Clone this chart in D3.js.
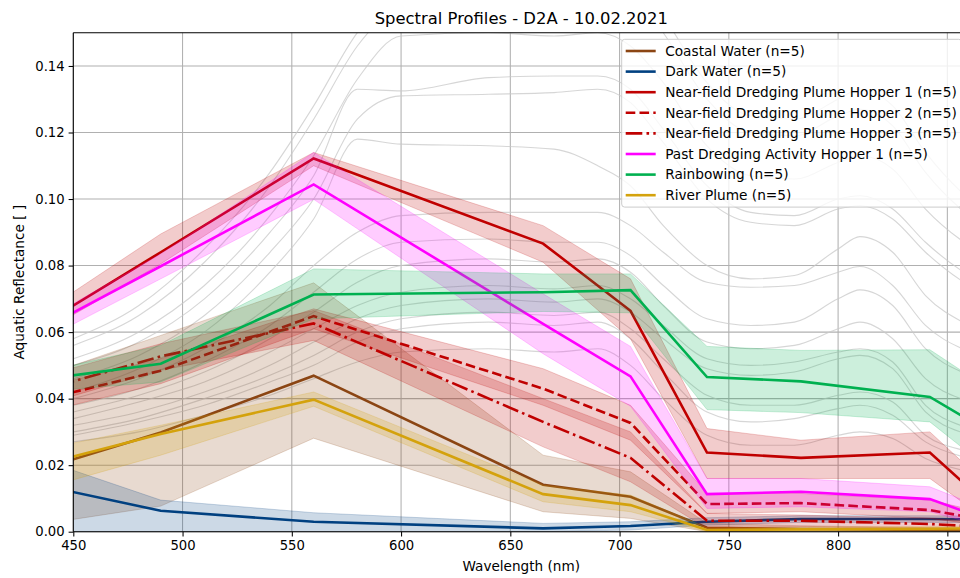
<!DOCTYPE html>
<html>
<head>
<meta charset="utf-8">
<script src="https://cdn.jsdelivr.net/npm/d3@7"></script>
<style>
  body { margin: 0; background: #fff; }
  svg { display: block; }
  text { font-family: "DejaVu Sans", sans-serif; fill: #000; }
</style>
</head>
<body>
<svg id="chart" width="960" height="578"></svg>
<script>
// Sentinel-2 band centres (nm)
const bands = [443, 490, 560, 665, 705, 740, 783, 842, 865];

// Class means and shaded envelopes (aquatic reflectance)
const coastalMean = [0.0204, 0.0298, 0.0469, 0.0141, 0.0105, 0.0012, 0.0008, 0.0005, 0.0003];
const coastalLo   = [0.0030, 0.0077, 0.0281, 0.0060, 0.0040, 0.0000, 0.0000, 0.0000, 0.0000];
const coastalHi   = [0.0484, 0.0590, 0.0748, 0.0230, 0.0180, 0.0025, 0.0018, 0.0012, 0.0010];

const darkMean = [0.0129, 0.0063, 0.0030, 0.0010, 0.0017, 0.0030, 0.0038, 0.0038, 0.0037];
const darkLo   = [0.0000, 0.0000, 0.0000, 0.0000, 0.0005, 0.0020, 0.0028, 0.0028, 0.0027];
const darkHi   = [0.0200, 0.0095, 0.0057, 0.0025, 0.0030, 0.0042, 0.0048, 0.0048, 0.0047];

const hopper1Mean = [0.0652, 0.0840, 0.1122, 0.0866, 0.0664, 0.0238, 0.0222, 0.0238, 0.0101];
const hopper1Lo   = [0.0625, 0.0805, 0.1100, 0.0810, 0.0580, 0.0160, 0.0160, 0.0160, 0.0050];
const hopper1Hi   = [0.0690, 0.0895, 0.1140, 0.0920, 0.0760, 0.0310, 0.0275, 0.0300, 0.0160];

const hopper2Mean = [0.0408, 0.0484, 0.0648, 0.0430, 0.0327, 0.0083, 0.0086, 0.0065, 0.0038];
const hopper2Lo   = [0.0370, 0.0445, 0.0610, 0.0380, 0.0275, 0.0055, 0.0060, 0.0040, 0.0020];
const hopper2Hi   = [0.0445, 0.0520, 0.0670, 0.0490, 0.0380, 0.0115, 0.0115, 0.0095, 0.0060];

const hopper3Mean = [0.0439, 0.0527, 0.0626, 0.0330, 0.0222, 0.0033, 0.0033, 0.0023, 0.0015];
const hopper3Lo   = [0.0395, 0.0485, 0.0575, 0.0255, 0.0150, 0.0010, 0.0015, 0.0008, 0.0005];
const hopper3Hi   = [0.0480, 0.0565, 0.0665, 0.0400, 0.0300, 0.0055, 0.0050, 0.0040, 0.0030];

const pastMean = [0.0634, 0.0798, 0.1044, 0.0625, 0.0467, 0.0113, 0.0120, 0.0098, 0.0044];
const pastLo   = [0.0600, 0.0760, 0.0999, 0.0535, 0.0377, 0.0070, 0.0075, 0.0060, 0.0020];
const pastHi   = [0.0660, 0.0835, 0.1140, 0.0715, 0.0557, 0.0160, 0.0160, 0.0135, 0.0075];

const rainbowMean = [0.0464, 0.0505, 0.0713, 0.0720, 0.0726, 0.0465, 0.0452, 0.0405, 0.0316];
const rainbowLo   = [0.0425, 0.0450, 0.0640, 0.0662, 0.0658, 0.0367, 0.0358, 0.0330, 0.0210];
const rainbowHi   = [0.0490, 0.0560, 0.0790, 0.0775, 0.0775, 0.0557, 0.0545, 0.0547, 0.0447];

const riverMean = [0.0214, 0.0294, 0.0397, 0.0113, 0.0080, 0.0005, 0.0007, 0.0009, 0.0010];
const riverLo   = [0.0143, 0.0230, 0.0377, 0.0090, 0.0060, 0.0000, 0.0002, 0.0003, 0.0004];
const riverHi   = [0.0257, 0.0320, 0.0420, 0.0140, 0.0110, 0.0012, 0.0014, 0.0016, 0.0017];

const classNames = [
  "Coastal Water (n=5)",
  "Dark Water (n=5)",
  "Near-field Dredging Plume Hopper 1 (n=5)",
  "Near-field Dredging Plume Hopper 2 (n=5)",
  "Near-field Dredging Plume Hopper 3 (n=5)",
  "Past Dredging Activity Hopper 1 (n=5)",
  "Rainbowing (n=5)",
  "River Plume (n=5)"
];

// Individual in-situ spectra drawn faintly behind the class means
const grayWavelengths = [450, 480, 510, 540, 560, 580, 600, 640, 670, 690, 705, 720, 740, 760, 780, 800, 810, 825, 840, 860, 890];
const grayA = [0.058, 0.068, 0.085, 0.108, 0.128, 0.150, 0.163, 0.172, 0.170, 0.172, 0.168, 0.155, 0.135, 0.125, 0.124, 0.130, 0.133, 0.128, 0.114, 0.100, 0.090];
const grayB = [0.056, 0.065, 0.081, 0.104, 0.124, 0.146, 0.159, 0.168, 0.165, 0.168, 0.163, 0.150, 0.130, 0.120, 0.119, 0.125, 0.127, 0.122, 0.108, 0.095, 0.086];
const grayC = [0.052, 0.060, 0.074, 0.095, 0.113, 0.136, 0.149, 0.150, 0.149, 0.150, 0.146, 0.135, 0.116, 0.107, 0.106, 0.111, 0.113, 0.109, 0.097, 0.086, 0.078];
const grayD = [0.050, 0.057, 0.070, 0.090, 0.107, 0.133, 0.1325, 0.1365, 0.137, 0.137, 0.133, 0.121, 0.104, 0.096, 0.095, 0.100, 0.101, 0.097, 0.087, 0.077, 0.070];
const grayE = [0.046, 0.053, 0.065, 0.084, 0.100, 0.124, 0.131, 0.1315, 0.132, 0.133, 0.129, 0.117, 0.100, 0.093, 0.092, 0.097, 0.098, 0.094, 0.084, 0.074, 0.067];
const grayF = [0.042, 0.049, 0.060, 0.078, 0.094, 0.118, 0.1165, 0.116, 0.115, 0.110, 0.104, 0.092, 0.080, 0.076, 0.077, 0.085, 0.0887, 0.084, 0.071, 0.062, 0.056];
const grayG = [0.040, 0.046, 0.055, 0.068, 0.080, 0.090, 0.095, 0.096, 0.096, 0.096, 0.092, 0.084, 0.075, 0.0735, 0.074, 0.078, 0.0797, 0.074, 0.062, 0.054, 0.048];
const grayH = [0.038, 0.043, 0.051, 0.062, 0.072, 0.082, 0.087, 0.088, 0.087, 0.087, 0.083, 0.074, 0.064, 0.062, 0.063, 0.070, 0.0727, 0.068, 0.055, 0.047, 0.042];
const grayI = [0.036, 0.041, 0.048, 0.058, 0.066, 0.075, 0.080, 0.082, 0.081, 0.082, 0.078, 0.068, 0.057, 0.055, 0.056, 0.061, 0.063, 0.058, 0.046, 0.039, 0.034];
const grayJ = [0.034, 0.039, 0.045, 0.054, 0.061, 0.068, 0.072, 0.074, 0.073, 0.074, 0.070, 0.062, 0.052, 0.050, 0.051, 0.054, 0.055, 0.051, 0.038, 0.031, 0.027];
const grayK = [0.032, 0.036, 0.042, 0.050, 0.057, 0.064, 0.068, 0.070, 0.069, 0.070, 0.066, 0.058, 0.049, 0.047, 0.048, 0.052, 0.053, 0.049, 0.036, 0.029, 0.025];
const grayL = [0.030, 0.034, 0.040, 0.047, 0.053, 0.060, 0.064, 0.066, 0.065, 0.066, 0.061, 0.052, 0.041, 0.038, 0.038, 0.041, 0.042, 0.039, 0.029, 0.024, 0.020];
const grayM = [0.029, 0.033, 0.038, 0.045, 0.050, 0.057, 0.061, 0.063, 0.062, 0.063, 0.058, 0.048, 0.036, 0.033, 0.034, 0.037, 0.038, 0.035, 0.027, 0.022, 0.019];
const grayN = [0.027, 0.030, 0.035, 0.041, 0.046, 0.051, 0.054, 0.055, 0.054, 0.055, 0.050, 0.040, 0.029, 0.026, 0.026, 0.029, 0.030, 0.028, 0.022, 0.018, 0.015];

const xTicks = [450, 500, 550, 600, 650, 700, 750, 800, 850];
const yTicks = [0.00, 0.02, 0.04, 0.06, 0.08, 0.10, 0.12, 0.14];

(function draw() {
  const W = 960, H = 578;
  const pLeft = 73.3, pRight = 969.2, pTop = 32.7, pBottom = 531.7;

  const svg = d3.select("#chart");
  svg.append("rect").attr("width", W).attr("height", H).attr("fill", "#fff");

  const x = d3.scaleLinear().domain([450, 860]).range([pLeft, pRight]);
  const y = d3.scaleLinear().domain([0, 0.15]).range([pBottom, pTop]);

  svg.append("defs").append("clipPath").attr("id", "plot-clip")
    .append("rect").attr("x", pLeft).attr("y", pTop)
    .attr("width", pRight - pLeft).attr("height", pBottom - pTop);

  // grid
  const grid = svg.append("g");
  grid.selectAll("line.gx").data(xTicks).join("line")
    .attr("class", "gx")
    .attr("x1", d => x(d)).attr("x2", d => x(d))
    .attr("y1", pTop).attr("y2", pBottom)
    .attr("stroke", "#b0b0b0").attr("stroke-width", 1.05);
  grid.selectAll("line.gy").data(yTicks).join("line")
    .attr("class", "gy")
    .attr("x1", pLeft).attr("x2", pRight)
    .attr("y1", d => y(d)).attr("y2", d => y(d))
    .attr("stroke", "#b0b0b0").attr("stroke-width", 1.05);

  const plot = svg.append("g").attr("clip-path", "url(#plot-clip)");

  // background spectra
  const graySpectra = [grayA, grayB, grayC, grayD, grayE, grayF, grayG, grayH, grayI, grayJ, grayK, grayL, grayM, grayN];
  const grayLine = d3.line()
    .x((d, i) => x(grayWavelengths[i]))
    .y(d => y(d))
    .curve(d3.curveMonotoneX);
  plot.selectAll("path.gray").data(graySpectra).join("path")
    .attr("class", "gray")
    .attr("d", grayLine)
    .attr("fill", "none")
    .attr("stroke", "#c8c8c8")
    .attr("stroke-opacity", 0.75)
    .attr("stroke-width", 1.1);

  // class series
  const series = [
    { name: classNames[0], mean: coastalMean, lo: coastalLo, hi: coastalHi, color: "#8B4513", dash: null },
    { name: classNames[1], mean: darkMean,    lo: darkLo,    hi: darkHi,    color: "#004080", dash: null },
    { name: classNames[2], mean: hopper1Mean, lo: hopper1Lo, hi: hopper1Hi, color: "#c00000", dash: null },
    { name: classNames[3], mean: hopper2Mean, lo: hopper2Lo, hi: hopper2Hi, color: "#c00000", dash: "9.6,4.2" },
    { name: classNames[4], mean: hopper3Mean, lo: hopper3Lo, hi: hopper3Hi, color: "#c00000", dash: "16.6,4.2,2.6,4.2" },
    { name: classNames[5], mean: pastMean,    lo: pastLo,    hi: pastHi,    color: "#ff00ff", dash: null },
    { name: classNames[6], mean: rainbowMean, lo: rainbowLo, hi: rainbowHi, color: "#00b050", dash: null },
    { name: classNames[7], mean: riverMean,   lo: riverLo,   hi: riverHi,   color: "#d4a20c", dash: null }
  ];

  const area = d3.area()
    .x(d => x(d.w)).y0(d => y(d.lo)).y1(d => y(d.hi));
  const meanLine = d3.line()
    .x(d => x(d.w)).y(d => y(d.v));

  series.forEach(s => {
    const pts = bands.map((w, i) => ({ w, v: s.mean[i], lo: s.lo[i], hi: s.hi[i] }));
    plot.append("path")
      .attr("d", area(pts))
      .attr("fill", s.color).attr("fill-opacity", 0.2)
      .attr("stroke", s.color).attr("stroke-opacity", 0.2).attr("stroke-width", 1);
    plot.append("path")
      .attr("d", meanLine(pts))
      .attr("fill", "none")
      .attr("stroke", s.color).attr("stroke-width", 2.6)
      .attr("stroke-dasharray", s.dash);
  });

  // axes
  const xAxis = svg.append("g").attr("transform", `translate(0,${pBottom})`)
    .call(d3.axisBottom(x).tickValues(xTicks).tickSize(4.7).tickPadding(4).tickFormat(d3.format("d")));
  const yAxis = svg.append("g").attr("transform", `translate(${pLeft},0)`)
    .call(d3.axisLeft(y).tickValues(yTicks).tickSize(4.7).tickPadding(4).tickFormat(d3.format(".2f")));
  [xAxis, yAxis].forEach(g => {
    g.select(".domain").remove();
    g.selectAll(".tick line").attr("stroke", "#000").attr("stroke-width", 1.05);
    g.selectAll(".tick text").attr("font-size", 13.2).attr("font-family", "DejaVu Sans").attr("fill", "#000");
  });

  // spines
  svg.append("line").attr("x1", pLeft).attr("x2", pLeft).attr("y1", pTop).attr("y2", pBottom)
    .attr("stroke", "#000").attr("stroke-width", 1.05);
  svg.append("line").attr("x1", pLeft).attr("x2", pRight).attr("y1", pTop).attr("y2", pTop)
    .attr("stroke", "#000").attr("stroke-width", 1.05);
  svg.append("line").attr("x1", pLeft).attr("x2", pRight).attr("y1", pBottom).attr("y2", pBottom)
    .attr("stroke", "#000").attr("stroke-width", 1.05);

  // title and axis labels
  svg.append("text").attr("x", (pLeft + pRight) / 2).attr("y", 24)
    .attr("text-anchor", "middle").attr("font-size", 16.4)
    .text("Spectral Profiles - D2A - 10.02.2021");
  svg.append("text").attr("x", (pLeft + pRight) / 2).attr("y", 571)
    .attr("text-anchor", "middle").attr("font-size", 13.6)
    .text("Wavelength (nm)");
  svg.append("text")
    .attr("transform", `translate(24,${(pTop + pBottom) / 2}) rotate(-90)`)
    .attr("text-anchor", "middle").attr("font-size", 13.6)
    .text("Aquatic Reflectance [ ]");

  // legend
  const legX = 621.7, legY = 39.3, legW = 340, rowH = 20.6;
  const legend = svg.append("g");
  legend.append("rect")
    .attr("x", legX).attr("y", legY).attr("width", legW)
    .attr("height", rowH * series.length + 3)
    .attr("rx", 3).attr("ry", 3)
    .attr("fill", "#fff").attr("fill-opacity", 0.8)
    .attr("stroke", "#cccccc").attr("stroke-width", 1);
  series.forEach((s, i) => {
    const cy = legY + 11.7 + i * rowH;
    legend.append("line")
      .attr("x1", legX + 4).attr("x2", legX + 34)
      .attr("y1", cy).attr("y2", cy)
      .attr("stroke", s.color).attr("stroke-width", 2.6)
      .attr("stroke-dasharray", s.dash);
    legend.append("text")
      .attr("x", legX + 43.5).attr("y", cy).attr("dy", "0.35em")
      .attr("font-size", 13.7)
      .text(s.name);
  });
})();
</script>
</body>
</html>
